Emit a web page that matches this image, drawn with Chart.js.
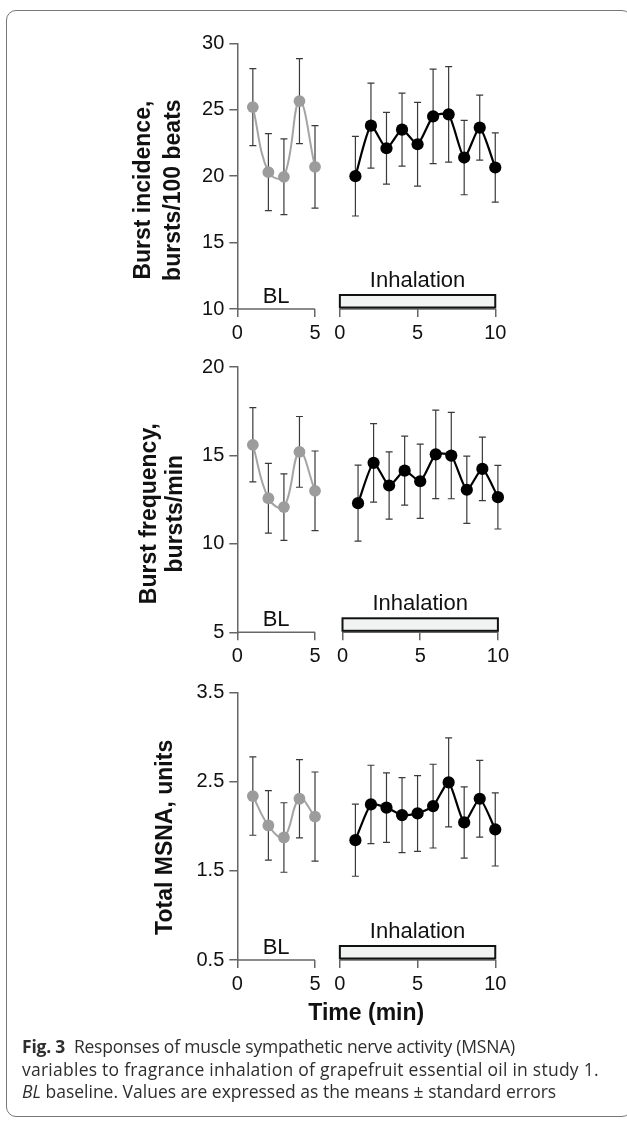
<!DOCTYPE html>
<html lang="en">
<head>
<meta charset="utf-8"/>
<title>Fig. 3 MSNA responses</title>
<script src="https://cdn.jsdelivr.net/npm/chart.js@4"></script>
<style>
  body { margin: 0; background: #fff; width: 627px; height: 1126px; position: relative; overflow: hidden; }
  .frame {
    position: absolute; left: 6px; top: 10px; width: 626px; height: 1107px;
    border: 1.5px solid #777; border-radius: 10px; box-sizing: border-box;
  }
  canvas { position: absolute; left: 0; }
  .caption {
    position: absolute; left: 22px; top: 1035px; width: 600px;
    font-family: 'Open Sans', 'Noto Sans', sans-serif; font-size: 17.5px; line-height: 22.5px; color: #2e2e2e;
    white-space: nowrap;
  }
</style>
</head>
<body>
<div class="frame"></div>
<canvas id="incidenceChart" width="627" height="330" style="top:20px"></canvas>
<canvas id="frequencyChart" width="627" height="320" style="top:350px"></canvas>
<canvas id="msnaChart" width="627" height="360" style="top:675px"></canvas>
<div class="caption">
  <span style="letter-spacing:-0.2px"><b>Fig. 3</b>&nbsp; Responses of muscle sympathetic nerve activity (MSNA)</span><br/>
  <span style="letter-spacing:0.25px">variables to fragrance inhalation of grapefruit essential oil in study 1.</span><br/>
  <span><i>BL</i> baseline. Values are expressed as the means ± standard errors</span>
</div>
<script>
// time points (min)
const blTimes = [1, 2, 3, 4, 5];
const inTimes = [1, 2, 3, 4, 5, 6, 7, 8, 9, 10];

// burst incidence, bursts/100 beats
const incidenceBlMean = [25.2, 20.3, 19.95, 25.65, 20.7];
const incidenceBlSe = [2.9, 2.9, 2.85, 3.2, 3.1];
const incidenceInMean = [20.0, 23.8, 22.1, 23.5, 22.4, 24.5, 24.65, 21.4, 23.65, 20.65];
const incidenceInSe = [3.0, 3.2, 2.7, 2.75, 3.15, 3.55, 3.6, 2.8, 2.45, 2.6];
const incidenceTicks = [10, 15, 20, 25, 30];

// burst frequency, bursts/min
const frequencyBlMean = [15.6, 12.58, 12.08, 15.2, 13.0];
const frequencyBlSe = [2.1, 1.97, 1.88, 2.0, 2.25];
const frequencyInMean = [12.3, 14.58, 13.3, 14.14, 13.54, 15.06, 14.99, 13.06, 14.24, 12.64];
const frequencyInSe = [2.15, 2.22, 1.9, 1.95, 2.1, 2.5, 2.44, 1.9, 1.8, 1.8];
const frequencyTicks = [5, 10, 15, 20];

// total MSNA, units
const msnaBlMean = [2.34, 2.01, 1.875, 2.31, 2.11];
const msnaBlSe = [0.44, 0.39, 0.39, 0.44, 0.5];
const msnaInMean = [1.845, 2.246, 2.21, 2.126, 2.145, 2.227, 2.493, 2.044, 2.31, 1.965];
const msnaInSe = [0.405, 0.44, 0.39, 0.42, 0.425, 0.47, 0.5, 0.4, 0.43, 0.41];
const msnaTicks = [0.5, 1.5, 2.5, 3.5];

const AXIS_LEFT = 237.3;   // px where the y axis sits
const PX_PER_MIN = 15.54;
const TICK_FONT = { family: "'Liberation Sans', Arial, sans-serif", size: 20 };
const AXIS_COLOR = '#666';

// error bars, axis segments, BL / Inhalation marks and the y title
const panelDecor = {
  id: 'panelDecor',
  beforeDatasetsDraw(chart) {
    const ctx = chart.ctx;
    const y = chart.scales.y;
    ctx.save();
    ctx.strokeStyle = '#3a3a3a';
    ctx.lineWidth = 1.2;
    chart.data.datasets.forEach((ds, di) => {
      chart.getDatasetMeta(di).data.forEach((pt, i) => {
        const m = ds.data[i].y, se = ds.se[i];
        const top = y.getPixelForValue(m + se), bot = y.getPixelForValue(m - se);
        ctx.beginPath();
        ctx.moveTo(pt.x, top); ctx.lineTo(pt.x, bot);
        ctx.moveTo(pt.x - 3.5, top); ctx.lineTo(pt.x + 3.5, top);
        ctx.moveTo(pt.x - 3.5, bot); ctx.lineTo(pt.x + 3.5, bot);
        ctx.stroke();
      });
    });
    ctx.restore();
  },
  afterDraw(chart, args, opts) {
    const ctx = chart.ctx;
    const x = chart.scales.x, area = chart.chartArea;
    const gap = opts.gap;
    const b = area.bottom;
    ctx.save();
    // x axis lines, one for baseline and one for inhalation
    ctx.strokeStyle = AXIS_COLOR;
    ctx.lineWidth = 1.5;
    ctx.beginPath();
    ctx.moveTo(area.left, b); ctx.lineTo(x.getPixelForValue(5), b);
    ctx.moveTo(x.getPixelForValue(gap), b); ctx.lineTo(x.getPixelForValue(gap + 10), b);
    ctx.stroke();
    // inhalation bar
    const x0 = x.getPixelForValue(gap), x1 = x.getPixelForValue(gap + 10);
    ctx.fillStyle = '#f1f3f3';
    ctx.fillRect(x0, b - 14, x1 - x0, 12.5);
    ctx.strokeStyle = '#111';
    ctx.lineWidth = 2;
    ctx.strokeRect(x0, b - 14, x1 - x0, 12.5);
    // labels
    ctx.fillStyle = '#111';
    ctx.font = "22px 'Liberation Sans', Arial, sans-serif";
    ctx.textAlign = 'center';
    ctx.textBaseline = 'middle';
    ctx.fillText('BL', x.getPixelForValue(2.5), b - 12);
    ctx.fillText('Inhalation', x.getPixelForValue(gap + 5), b - 28);
    // y title
    ctx.font = "bold 23px 'Liberation Sans', Arial, sans-serif";
    const cy = (area.top + area.bottom) / 2 + opts.titleDy;
    opts.title.forEach((line, i) => {
      ctx.save();
      ctx.translate(opts.titleX[i], cy);
      ctx.rotate(-Math.PI / 2);
      ctx.fillText(line, 0, 0);
      ctx.restore();
    });
    ctx.restore();
  }
};

function makePanel(id, p) {
  const canvas = document.getElementById(id);
  const gap = p.gap;
  new Chart(canvas.getContext('2d'), {
    type: 'line',
    data: {
      datasets: [{
        data: blTimes.map((t, i) => ({ x: t, y: p.blMean[i] })),
        se: p.blSe,
        clip: false,
        borderColor: '#a4a4a4',
        borderWidth: 2,
        pointBackgroundColor: '#9c9c9c',
        pointBorderWidth: 0,
        pointRadius: 5.9,
        tension: 0.4
      }, {
        data: inTimes.map((t, i) => ({ x: t + gap, y: p.inMean[i] })),
        se: p.inSe,
        clip: false,
        borderColor: '#000',
        borderWidth: 2.2,
        pointBackgroundColor: '#000',
        pointBorderWidth: 0,
        pointRadius: 6.1,
        tension: 0.2
      }]
    },
    options: {
      responsive: false,
      animation: false,
      events: [],
      layout: {
        padding: {
          left: 0,
          top: p.padTop,
          bottom: p.padBottom,
          right: canvas.width - AXIS_LEFT - (gap + 10) * PX_PER_MIN
        }
      },
      plugins: {
        legend: { display: false },
        tooltip: { enabled: false },
        panelDecor: { gap: gap, title: p.title, titleX: p.titleX, titleDy: p.titleDy }
      },
      scales: {
        x: {
          type: 'linear',
          min: 0,
          max: gap + 10,
          afterBuildTicks: s => { s.ticks = [0, 5, gap, gap + 5, gap + 10].map(v => ({ value: v })); },
          afterFit: s => { s.height = p.xHeight; },
          ticks: {
            autoSkip: false, maxRotation: 0, minRotation: 0, padding: 4,
            color: '#111', font: TICK_FONT,
            callback: v => v <= 5 ? Math.round(v) : Math.round(v - gap)
          },
          grid: { display: true, drawOnChartArea: false, drawTicks: true, tickLength: 8, color: AXIS_COLOR, lineWidth: 1.5 },
          border: { display: false },
          title: p.xTitle ? {
            display: true, text: p.xTitle, color: '#111',
            font: { family: "'Liberation Sans', Arial, sans-serif", size: 23, weight: 'bold' },
            padding: { top: 0, bottom: 4 }
          } : { display: false }
        },
        y: {
          min: p.ticks[0],
          max: p.ticks[p.ticks.length - 1],
          afterBuildTicks: s => { s.ticks = p.ticks.map(v => ({ value: v })); },
          afterFit: s => { s.width = AXIS_LEFT; },
          ticks: { color: '#111', font: TICK_FONT, padding: 5 },
          grid: { drawOnChartArea: false, drawTicks: true, tickLength: 8, color: AXIS_COLOR, lineWidth: 1.5 },
          border: { display: true, color: AXIS_COLOR, width: 1.5 }
        }
      }
    },
    plugins: [panelDecor]
  });
}

makePanel('incidenceChart', {
  blMean: incidenceBlMean, blSe: incidenceBlSe, inMean: incidenceInMean, inSe: incidenceInSe,
  ticks: incidenceTicks, gap: 6.6, padTop: 23.3, padBottom: 11, xHeight: 30,
  title: ['Burst incidence,', 'bursts/100 beats'], titleX: [143.6, 173.5], titleDy: 14
});
makePanel('frequencyChart', {
  blMean: frequencyBlMean, blSe: frequencyBlSe, inMean: frequencyInMean, inSe: frequencyInSe,
  ticks: frequencyTicks, gap: 6.77, padTop: 16, padBottom: 7.7, xHeight: 30,
  title: ['Burst frequency,', 'bursts/min'], titleX: [149.6, 175.5], titleDy: 14
});
makePanel('msnaChart', {
  blMean: msnaBlMean, blSe: msnaBlSe, inMean: msnaInMean, inSe: msnaInSe,
  ticks: msnaTicks, gap: 6.6, padTop: 17.7, padBottom: 4, xHeight: 71,
  title: ['Total MSNA, units'], titleX: [165.5], titleDy: 11, xTitle: 'Time (min)'
});
</script>
</body>
</html>
